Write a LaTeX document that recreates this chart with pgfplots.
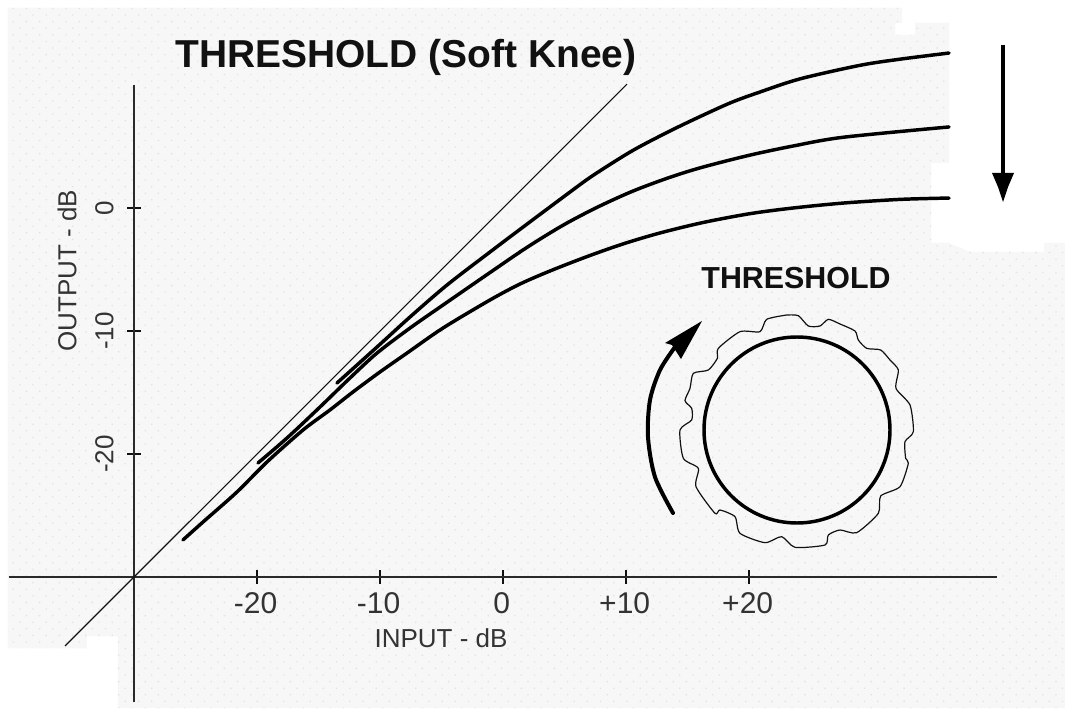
\documentclass[border=0pt]{standalone}
\usepackage{fontspec}
\setmainfont{Liberation Sans}
\usepackage{pgfplots}
\pgfplotsset{compat=1.18}
\usetikzlibrary{patterns.meta}
\definecolor{bgc}{HTML}{F7F7F7}
\definecolor{dotc}{HTML}{E2E2E2}
\definecolor{inkc}{HTML}{111111}
\definecolor{axc}{HTML}{2A2A2A}
\definecolor{labc}{HTML}{333333}
\begin{document}
\begin{tikzpicture}
% page and stippled backdrop, in pixel coordinates of the reference
\begin{scope}[x=0.75pt,y=-0.75pt,shift={(-100.5pt,432.75pt)}]
\fill[white] (0,0) rectangle (1065,708);
\path[fill=bgc,postaction={pattern={Dots[distance=7pt,radius=0.7pt,angle=45]},pattern color=dotc}]
 (8,8)--(902,8)--(902,23)--(895,23)--(895,35)--(915,35)--(915,23)--(949,23)--(949,163)--(931,163)--(931,243)--(949,243)--(970,252)--(1044,252)--(1044,243)--(1065,243)--(1065,708)--(118,708)--(118,636)--(87,636)--(87,648)--(8,648)--cycle;
\end{scope}
\begin{axis}[
  at={(0,0)},anchor=south west,
  scale only axis,width=647.25pt,height=369pt,
  xmin=-30,xmax=40.16,ymin=-30,ymax=10,
  axis lines=left,
  axis line style={-,line width=1.5pt,axc},
  clip=false,
  xtick={-20,-10,0,10,20},
  xticklabels={-20,-10,0,+10,+20},
  ytick={-20,-10,0},
  yticklabels={-20,-10,0},
  tick align=center,
  major tick length=10.5pt,
  tick style={line width=1pt,inkc},
  x tick label style={font=\fontsize{22.5pt}{24pt}\selectfont,text=labc,yshift=-3pt,xshift=-1pt},
  y tick label style={font=\fontsize{19.5pt}{20pt}\selectfont,text=labc,xshift=-6.5pt,rotate=90,anchor=south},
  xlabel={INPUT - dB},
  ylabel={OUTPUT - dB},
  every axis x label/.style={at={(axis cs:-5.04,-34.96)},anchor=center,font=\fontsize{19.5pt}{20pt}\selectfont,text=labc},
  every axis y label/.style={at={(axis cs:-35.45,-5.12)},anchor=center,rotate=90,font=\fontsize{19.5pt}{20pt}\selectfont,text=labc},
  title={\textbf{THRESHOLD (Soft Knee)}},
  every axis title/.style={at={(axis cs:-7.89,12.27)},anchor=center,font=\fontsize{29.2pt}{31pt}\selectfont,text=inkc},
]
% axis extensions
\addplot[line width=1.5pt,axc,forget plot] coordinates {(-40.2,-30) (-30,-30)};
\addplot[line width=1.5pt,axc,forget plot] coordinates {(-30,-40.2) (-30,-30)};
% unity line
\addplot[line width=0.8pt,inkc] coordinates {(-35.6,-35.6) (10.08,10.08)};
% top curve
\addplot[line width=2.6pt,black,smooth,line cap=round] coordinates {
(-13.50,-14.23)(-10.24,-11.30)(-7.56,-8.86)(-4.55,-6.26)(-1.06,-3.58)(1.63,-1.55)(5.45,1.30)(7.32,2.65)(10.33,4.55)(12.76,5.85)(15.20,7.05)(18.46,8.54)(20.89,9.43)(24.15,10.5)(29.02,11.6)(32.28,12.1)(36.26,12.60)};
% middle curve
\addplot[line width=2.6pt,black,smooth,line cap=round] coordinates {
(-19.92,-20.73)(-17.56,-18.70)(-14.88,-16.18)(-12.44,-13.82)(-10.24,-11.79)(-7.56,-9.76)(-4.88,-7.89)(-1.06,-5.25)(1.95,-3.20)(4.88,-1.40)(7.64,0.05)(10.57,1.38)(13.58,2.50)(16.26,3.33)(20.08,4.30)(23.58,5.04)(27.64,5.75)(36.26,6.59)};
% bottom curve
\addplot[line width=2.6pt,black,smooth,line cap=round] coordinates {
(-26.02,-26.99)(-24.39,-25.53)(-21.63,-23.09)(-19.19,-20.65)(-16.26,-18.05)(-14.07,-16.42)(-12.20,-14.96)(-10.00,-13.33)(-7.80,-11.79)(-4.88,-9.76)(-1.06,-7.48)(1.38,-6.18)(3.82,-5.12)(6.83,-3.95)(9.76,-2.92)(12.76,-2.03)(16.26,-1.18)(20.08,-0.46)(23.58,0)(27.64,0.40)(32.28,0.70)(36.26,0.81)};
\end{axis}
% illustration: arrows and knob, in pixel coordinates of the reference
\begin{scope}[x=0.75pt,y=-0.75pt,shift={(-100.5pt,432.75pt)}]
\draw[line width=2.4pt,black] (1003,45)--(1003,178);
\fill[black] (992,173)--(1014,173)--(1008,187)--(1003,202)--(998,187)--cycle;
\node[font=\fontsize{22.8pt}{24pt}\selectfont\bfseries,text=inkc,anchor=center] at (796,278) {THRESHOLD};
\draw[line width=2.6pt,black] (797,430) circle (93);
\draw[line width=3pt,black,line cap=round] plot[smooth] coordinates {(673,513)(655,477)(648,437)(650,400)(660,370)(675,347)};
\fill[black] (702,321)--(665,343)--(672,345)--(681,359)--cycle;
\end{scope}
\begin{scope}[x=0.25pt,y=-0.25pt,shift={(-100.5pt,432.75pt)},xshift=480pt,yshift=-187.5pt]
\draw[line width=0.9pt,inkc] plot[smooth,tension=0.4] coordinates {(440,195)(475,197)(505,228)(540,228)(565,208)(600,222)(645,243)(655,270)(680,295)(722,300)(750,330)(775,360)(768,415)(810,465)(820,545)(795,575)(797,625)(805,640)(780,710)(722,738)(715,790)(650,848)(600,840)(565,855)(555,885)(465,892)(425,860)(375,878)(300,850)(285,800)(240,780)(225,790)(168,710)(175,655)(130,625)(120,540)(155,510)(155,475)(135,452)(150,415)(160,370)(205,360)(232,325)(235,295)(300,245)(360,245)(380,208)(440,195)};
\end{scope}
\end{tikzpicture}
\end{document}
